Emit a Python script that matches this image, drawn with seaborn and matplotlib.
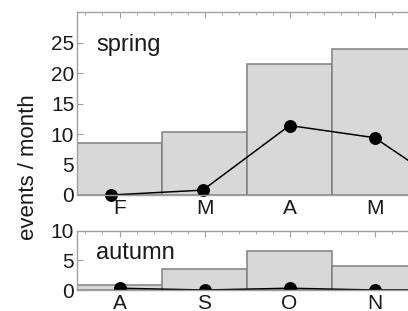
import numpy as np
import pandas as pd
import matplotlib
matplotlib.use("Agg")
import matplotlib.pyplot as plt
import seaborn as sns
from matplotlib.ticker import MultipleLocator

# spring panel
spring_months = ["F", "M", "A", "M"]
spring_bars = [8.5, 10.4, 21.5, 24.0]
spring_pts_x = [-0.1, 0.98, 2.0, 3.0, 4.0]
spring_pts_y = [0.0, 0.8, 11.4, 9.4, 0.0]

# autumn panel
autumn_months = ["A", "S", "O", "N"]
autumn_bars = [0.9, 3.6, 6.6, 4.0]
autumn_pts_x = [0.0, 1.0, 2.0, 3.0, 4.0]
autumn_pts_y = [0.3, 0.0, 0.3, 0.0, 0.0]

sns.set_style("ticks")
plt.rcParams["font.family"] = ["Liberation Sans", "DejaVu Sans"]

BAR = "#d8d8d8"
EDGE = "#808080"
SPINE = "#a0a0a0"
INK = "#1a1a1a"

fig = plt.figure(figsize=(4.08, 3.11), dpi=100)
ax1 = fig.add_axes([0.1887, 0.373, 1.042, 0.588])
ax2 = fig.add_axes([0.1887, 0.0675, 1.042, 0.19])


def panel(ax, months, bars, px, py, ymax, yticks, label, label_y, clip):
    df = pd.DataFrame({"pos": np.arange(len(bars)), "val": bars})
    sns.barplot(data=df, x="pos", y="val", native_scale=True, width=1.0,
                color=BAR, saturation=1, edgecolor=EDGE, linewidth=1.1, ax=ax)
    pts = pd.DataFrame({"x": px, "y": py})
    sns.lineplot(data=pts, x="x", y="y", color="black", linewidth=1.1,
                 marker="o", markersize=8.5, markeredgecolor="black",
                 clip_on=clip, ax=ax)
    ax.set_xlim(-0.5, 4.5)
    ax.set_ylim(0, ymax)
    ax.set_yticks(yticks)
    ax.set_xticks(np.arange(len(months)))
    ax.set_xticklabels(months)
    ax.xaxis.set_minor_locator(MultipleLocator(0.2))
    ax.tick_params(axis="both", which="major", direction="in", length=4,
                   color=SPINE, labelsize=15, labelcolor=INK, pad=2)
    ax.tick_params(axis="x", which="major", top=True, pad=3)
    ax.tick_params(axis="x", which="minor", direction="in", length=2.5,
                   top=True, bottom=False, color=SPINE)
    for s in ax.spines.values():
        s.set_color(SPINE)
        s.set_linewidth(1.0)
    ax.set_xlabel("")
    ax.set_ylabel("")
    ax.text(0.045, label_y, label, transform=ax.transAxes,
            fontsize=17, color=INK)


panel(ax1, spring_months, spring_bars, spring_pts_x, spring_pts_y, 30,
      [0, 5, 10, 15, 20, 25], "spring", 0.79, False)
panel(ax2, autumn_months, autumn_bars, autumn_pts_x, autumn_pts_y, 10,
      [0, 5, 10], "autumn", 0.52, True)

fig.text(28 / 408, 1 - 167 / 311, "events / month", rotation=90,
         ha="center", va="center", fontsize=16, color=INK)

fig.savefig("out.png", dpi=100)
plt.close(fig)
